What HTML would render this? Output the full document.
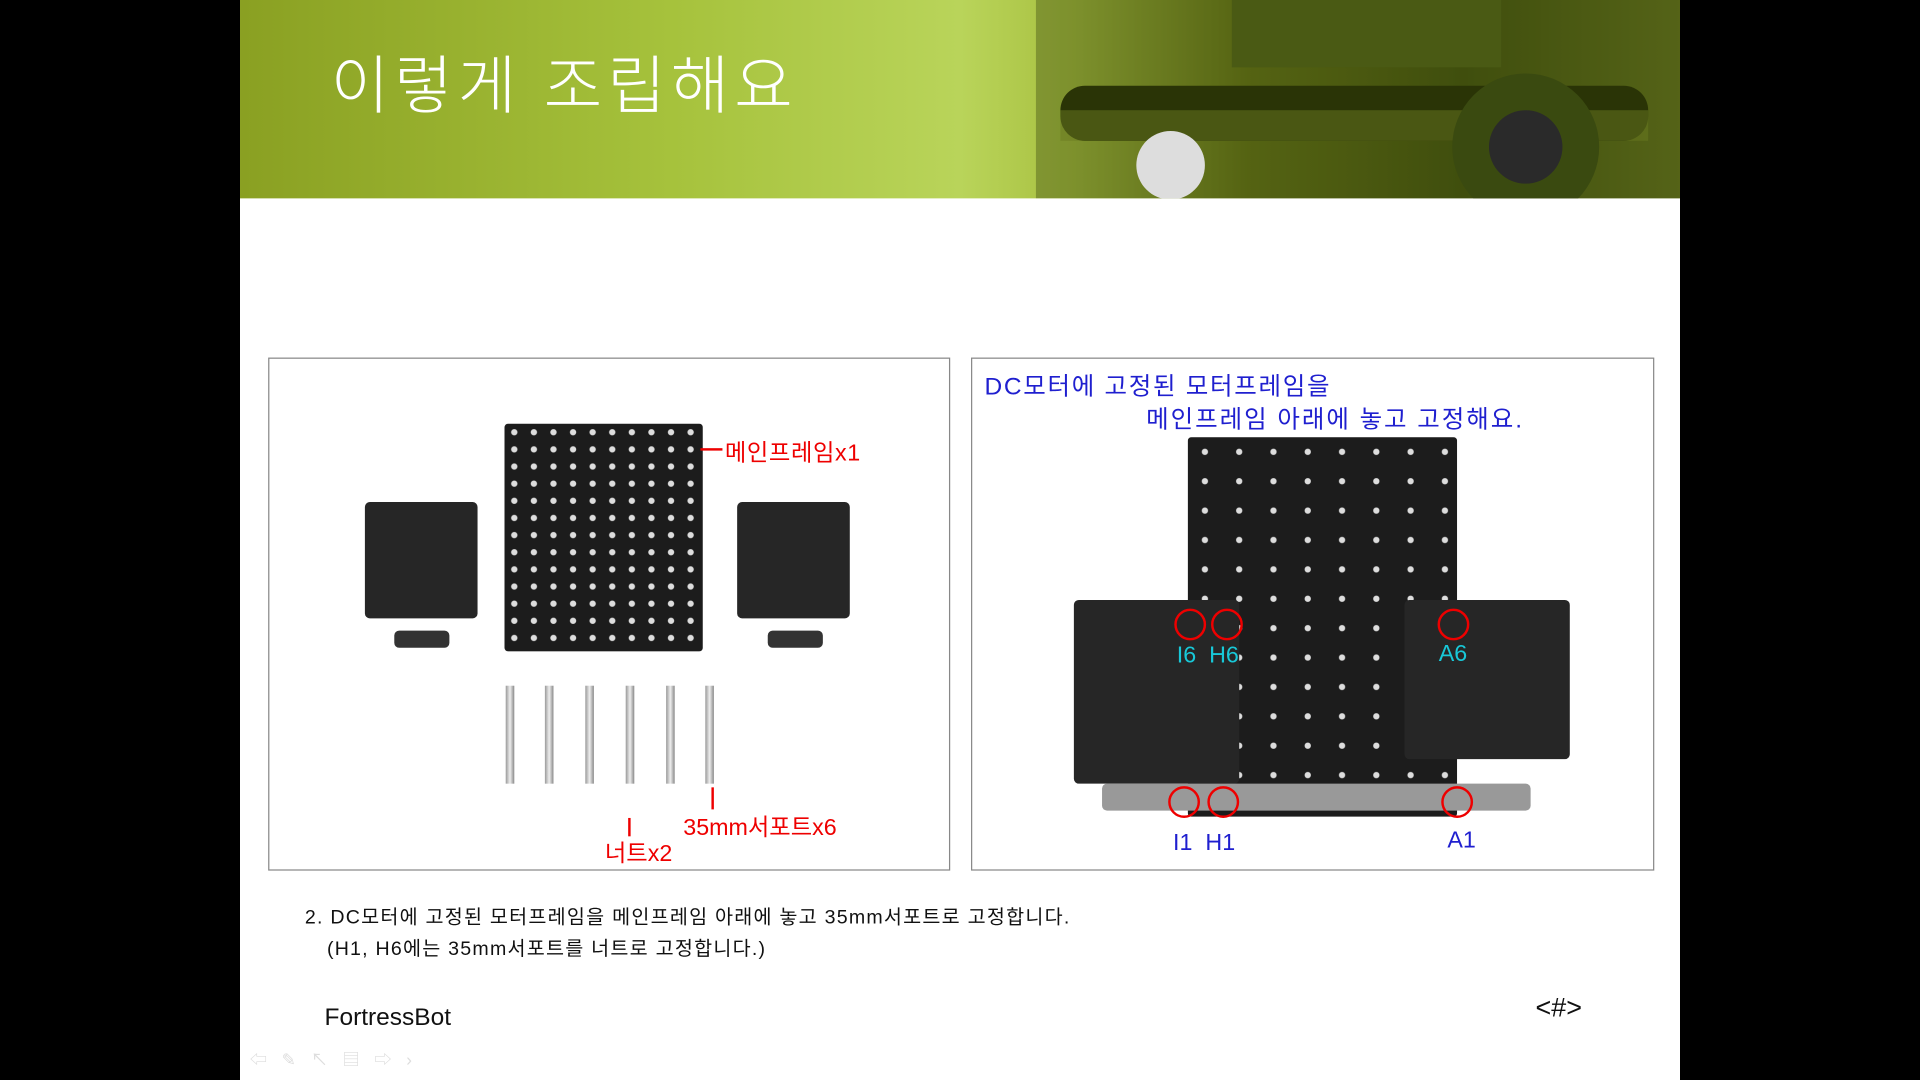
<!DOCTYPE html>
<html><head><meta charset="utf-8"><style>
html,body{margin:0;padding:0;background:#000;width:1920px;height:1080px;overflow:hidden}
#w{position:absolute;left:0;top:0;width:1568px;height:882px;transform:scale(1.22449);transform-origin:0 0;font-family:"Liberation Sans","Noto Sans CJK KR",sans-serif}
.slide{position:absolute;left:196px;top:0;width:1176px;height:882px;background:#fff}
.hdr{position:absolute;left:0;top:0;width:1176px;height:162px;background:linear-gradient(90deg,#8aa022 0%,#a6c23c 30%,#b9d45a 50%,#a8c040 58%,#6a7a18 70%,#4a5a10 85%,#6a7a20 100%)}
.title{position:absolute;left:74px;top:28px;font-size:52px;color:#fff;letter-spacing:4px;font-weight:300}
.box{position:absolute;border:1.5px solid #888;background:#fff}
.t{position:absolute;white-space:nowrap}
.plate{position:absolute;background:#1c1c1c;background-image:radial-gradient(circle,#ddd 2.3px,transparent 2.8px);background-size:16px 14px;border-radius:3px}
.mot{position:absolute;background:#262626;border-radius:4px}
.rod{position:absolute;width:7px;height:80px;background:linear-gradient(90deg,#999,#eee,#888)}
.c{position:absolute;width:22px;height:22px;border:2px solid #e00;border-radius:50%}
</style></head><body><div id="w">
<div class="slide">
<div class="hdr">
 <svg style="position:absolute;left:610px;top:0" width="566" height="162"><rect x="40" y="0" width="526" height="162" fill="#2e3a08" opacity=".35"/><rect x="60" y="70" width="480" height="45" fill="#2a3406" rx="20"/><rect x="60" y="90" width="480" height="25" fill="#6a7a20" opacity=".5"/><circle cx="440" cy="120" r="60" fill="#3a4a10"/><circle cx="440" cy="120" r="30" fill="#2a2a2a"/><circle cx="150" cy="135" r="28" fill="#ddd"/><rect x="200" y="0" width="220" height="55" fill="#4a5a14"/></svg>
 <div class="title">이렇게 조립해요</div>
</div>
</div>
<div class="box" style="left:219px;top:292px;width:555px;height:417px"></div>
<div class="box" style="left:793px;top:292px;width:556px;height:417px"></div>
<div class="plate" style="left:412px;top:346px;width:162px;height:186px"></div>
<div class="mot" style="left:298px;top:410px;width:92px;height:95px"></div>
<div class="mot" style="left:602px;top:410px;width:92px;height:95px"></div>
<div class="mot" style="left:322px;top:515px;width:45px;height:14px;background:#333"></div>
<div class="mot" style="left:627px;top:515px;width:45px;height:14px;background:#333"></div>
<div class="rod" style="left:413px;top:560px"></div><div class="rod" style="left:445px;top:560px"></div><div class="rod" style="left:478px;top:560px"></div><div class="rod" style="left:511px;top:560px"></div><div class="rod" style="left:544px;top:560px"></div><div class="rod" style="left:576px;top:560px"></div>
<div style="position:absolute;left:572px;top:366px;width:18px;height:2px;background:#e00"></div>
<div class="t" style="left:592px;top:355px;color:#e00;font-size:19px;letter-spacing:.5px">메인프레임x1</div>
<div style="position:absolute;left:581px;top:643px;width:2px;height:18px;background:#e00"></div>
<div class="t" style="left:558px;top:661px;color:#e00;font-size:19px">35mm서포트x6</div>
<div style="position:absolute;left:513px;top:668px;width:2px;height:15px;background:#e00"></div>
<div class="t" style="left:494px;top:682px;color:#e00;font-size:19px">너트x2</div>
<div class="t" style="left:804px;top:299px;color:#1f1fcf;font-size:20px;letter-spacing:1.4px">DC모터에 고정된 모터프레임을</div>
<div class="t" style="left:936px;top:326px;color:#1f1fcf;font-size:20px;letter-spacing:1.6px">메인프레임 아래에 놓고 고정해요.</div>
<div class="plate" style="left:970px;top:357px;width:220px;height:310px;background-size:28px 24px"></div>
<div class="mot" style="left:877px;top:490px;width:135px;height:150px"></div>
<div class="mot" style="left:1147px;top:490px;width:135px;height:130px"></div>
<div class="mot" style="left:900px;top:640px;width:350px;height:22px;background:#999"></div>
<div class="c" style="left:959px;top:497px"></div><div class="c" style="left:989px;top:497px"></div><div class="c" style="left:1174px;top:497px"></div>
<div class="c" style="left:954px;top:642px"></div><div class="c" style="left:986px;top:642px"></div><div class="c" style="left:1177px;top:642px"></div>
<div class="t" style="left:961px;top:525px;color:#18c8d8;font-size:19px">I6&nbsp; H6</div>
<div class="t" style="left:1175px;top:524px;color:#18c8d8;font-size:19px">A6</div>
<div class="t" style="left:958px;top:678px;color:#1f1fcf;font-size:19px">I1&nbsp; H1</div>
<div class="t" style="left:1182px;top:676px;color:#1f1fcf;font-size:19px">A1</div>
<div class="t" style="left:249px;top:735px;font-size:16px;color:#111;letter-spacing:1px">2. DC모터에 고정된 모터프레임을 메인프레임 아래에 놓고 35mm서포트로 고정합니다.</div>
<div class="t" style="left:267px;top:761px;font-size:16px;color:#111;letter-spacing:1px">(H1, H6에는 35mm서포트를 너트로 고정합니다.)</div>
<div class="t" style="left:265px;top:820px;font-size:20px;color:#111">FortressBot</div>
<div class="t" style="left:1254px;top:810px;font-size:22px;color:#111">&lt;#&gt;</div>
<div class="t" style="left:204px;top:855px;font-size:14px;color:#ddd;letter-spacing:12px">⇦✎↖▤⇨›</div>
</div></body></html>
